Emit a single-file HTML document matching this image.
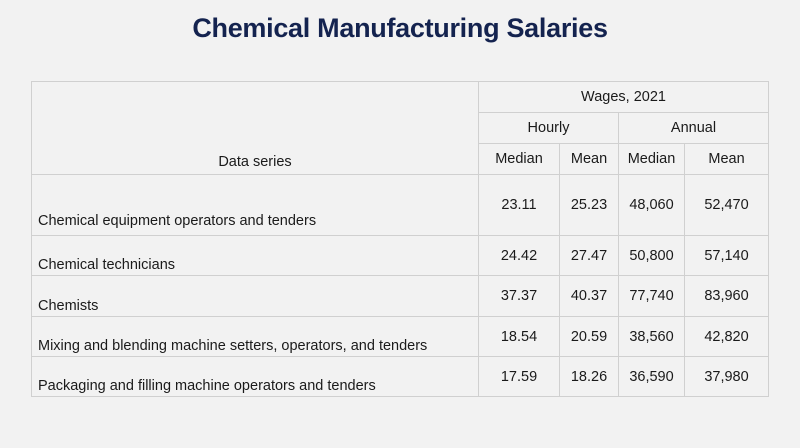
<!DOCTYPE html>
<html><head><meta charset="utf-8"><style>
body{margin:0;width:800px;height:448px;background:#f2f2f2;font-family:"Liberation Sans",sans-serif;position:relative;overflow:hidden}
#title{position:absolute;left:0;top:13px;width:800px;text-align:center;font-size:27px;font-weight:bold;color:#14234f;letter-spacing:-0.3px}
.c{position:absolute;box-sizing:border-box;border-right:1px solid #d0d0d0;border-bottom:1px solid #d0d0d0;font-size:14.5px;color:#1a1a1a;display:flex;justify-content:center}
#tbl{position:absolute;left:31px;top:81px;width:737px;height:315px;border-top:1px solid #d0d0d0;border-left:1px solid #d0d0d0}
</style></head><body>
<div id="title">Chemical Manufacturing Salaries</div>
<div id="tbl"></div>
<script>
const rowLabels=["Chemical equipment operators and tenders","Chemical technicians","Chemists","Mixing and blending machine setters, operators, and tenders","Packaging and filling machine operators and tenders"];
const hourlyMedian=["23.11","24.42","37.37","18.54","17.59"];
const hourlyMean=["25.23","27.47","40.37","20.59","18.26"];
const annualMedian=["48,060","50,800","77,740","38,560","36,590"];
const annualMean=["52,470","57,140","83,960","42,820","37,980"];
const T=document.getElementById('tbl');
const X=[0,447,528,587,653,737];
const RY=[93,154,194,235,275,315];
function cell(x,y,w,h,txt,name,align,valign,pad){
  const d=document.createElement('div');
  d.className='c';
  d.style.left=x+'px';d.style.top=y+'px';d.style.width=w+'px';d.style.height=h+'px';
  d.style.alignItems=valign||'center';
  if(align==='left'){d.style.justifyContent='flex-start';d.style.paddingLeft='6px';}
  if(pad)d.style.paddingBottom=pad+'px';
  d.textContent=txt;
  
  
  T.appendChild(d);
}
cell(0,0,447,93,'Data series','header-data-series','center','flex-end',4);
cell(447,0,290,31,'Wages, 2021','header-wages-2021');
cell(447,31,140,31,'Hourly','header-hourly');
cell(587,31,150,31,'Annual','header-annual');
const sub=['Median','Mean','Median','Mean'];
const subN=['header-hourly-median','header-hourly-mean','header-annual-median','header-annual-mean'];
for(let j=0;j<4;j++)cell(X[j+1],62,X[j+2]-X[j+1],31,sub[j],subN[j]);
const cols=[hourlyMedian,hourlyMean,annualMedian,annualMean];
const colN=['hourly-median','hourly-mean','annual-median','annual-mean'];
for(let i=0;i<rowLabels.length;i++){
  const y=RY[i],h=RY[i+1]-RY[i];
  cell(0,y,447,h,rowLabels[i],'row-label-'+(i+1),'left','flex-end',i===0?6:2);
  for(let j=0;j<4;j++)cell(X[j+1],y,X[j+2]-X[j+1],h,cols[j][i],colN[j]+'-'+(i+1),'center','center',0);
}
</script>
</body></html>
